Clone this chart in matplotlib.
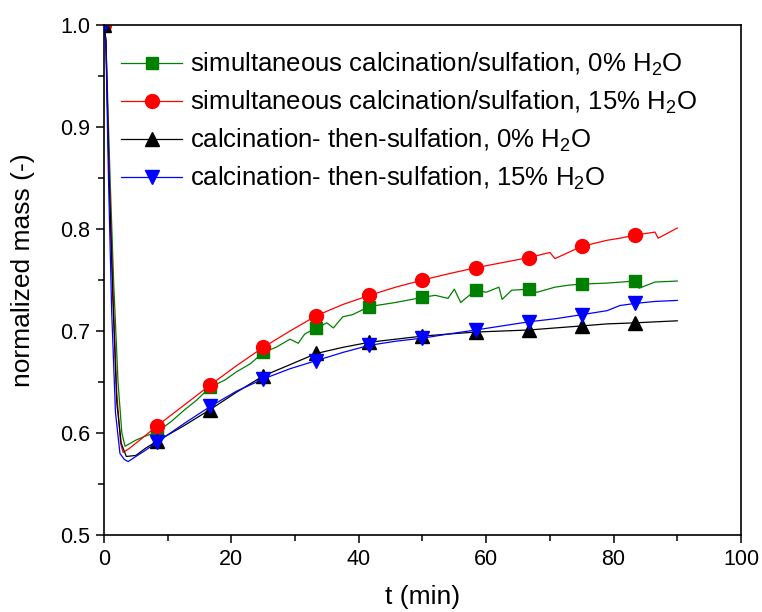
import matplotlib
matplotlib.use("Agg")
import matplotlib.pyplot as plt
from matplotlib.ticker import MultipleLocator

plt.rcParams['font.family'] = ['Liberation Sans', 'DejaVu Sans']
plt.rcParams['mathtext.fontset'] = 'custom'
plt.rcParams['mathtext.rm'] = 'Liberation Sans'
plt.rcParams['mathtext.it'] = 'Liberation Sans'

# marker positions (min)
marker_t = [0, 8.33, 16.67, 25, 33.33, 41.67, 50, 58.33, 66.67, 75, 83.33]

# simultaneous calcination/sulfation, 0% H2O
t_g = [0, 0.3, 0.9, 1.5, 2.2, 2.8, 3.3, 5, 6.5, 8.33, 10.5, 12.5, 14.5, 16.67, 19, 20.8, 23,
       25, 27, 29.2, 30.5, 31.5, 33.33, 35, 36, 37.5, 39, 41.67, 45.8, 50, 52, 54, 55, 56,
       58.33, 60, 62, 62.5, 64, 66.67, 68, 70.8, 73, 75, 79, 83.33, 84, 86.5, 90]
m_g = [1.0, 0.985, 0.86, 0.75, 0.65, 0.60, 0.587, 0.593, 0.597, 0.601, 0.611, 0.622, 0.632, 0.645, 0.652, 0.660, 0.668,
       0.679, 0.684, 0.692, 0.688, 0.697, 0.703, 0.708, 0.703, 0.714, 0.716, 0.724, 0.728, 0.733, 0.735, 0.732, 0.741, 0.728,
       0.740, 0.738, 0.743, 0.731, 0.740, 0.741, 0.738, 0.743, 0.745, 0.746, 0.747, 0.749, 0.742, 0.748, 0.749]

# simultaneous calcination/sulfation, 15% H2O
t_r = [0, 0.3, 0.8, 1.4, 2.0, 2.6, 3.0, 4, 6, 8.33, 12.5, 16.67, 20.8, 25, 29.2, 33.33, 37.5,
       41.67, 45.8, 50, 54, 58.33, 62.5, 66.67, 70, 70.8, 75, 79, 81, 83.33, 86.5, 87, 90]
m_r = [1.0, 0.985, 0.86, 0.74, 0.64, 0.59, 0.581, 0.585, 0.595, 0.607, 0.627, 0.647, 0.666, 0.684, 0.700, 0.715, 0.726,
       0.735, 0.743, 0.750, 0.756, 0.762, 0.767, 0.772, 0.777, 0.771, 0.783, 0.789, 0.791, 0.794, 0.797, 0.791, 0.801]

# calcination- then-sulfation, 0% H2O
t_k = [0, 0.3, 0.8, 1.4, 2.0, 2.7, 3.5, 5, 6.5, 8.33, 12.5, 16.67, 20.8, 25, 29.2, 33.33, 37.5,
       41.67, 45.8, 50, 54, 58.33, 62.5, 66.67, 70.8, 75, 79, 83.33, 86.5, 90]
m_k = [1.0, 0.985, 0.85, 0.73, 0.63, 0.59, 0.577, 0.578, 0.585, 0.592, 0.607, 0.623, 0.640, 0.656, 0.667, 0.678, 0.684,
       0.689, 0.692, 0.695, 0.697, 0.699, 0.700, 0.701, 0.703, 0.705, 0.707, 0.708, 0.709, 0.710]

# calcination- then-sulfation, 15% H2O
t_b = [0, 0.3, 0.7, 1.2, 1.8, 2.5, 3.2, 3.8, 5, 6.5, 8.33, 12.5, 16.67, 20.8, 25, 29.2, 33.33, 37.5,
       41.67, 45.8, 50, 54, 58.33, 62.5, 66.67, 70.8, 75, 79, 81, 83.33, 86.5, 90]
m_b = [1.0, 0.98, 0.85, 0.72, 0.62, 0.58, 0.574, 0.572, 0.577, 0.583, 0.591, 0.609, 0.626, 0.641, 0.653, 0.663, 0.671, 0.679,
       0.686, 0.690, 0.693, 0.697, 0.701, 0.705, 0.709, 0.712, 0.716, 0.720, 0.725, 0.727, 0.729, 0.730]

labels = ['simultaneous calcination/sulfation, 0% H$_2$O',
          'simultaneous calcination/sulfation, 15% H$_2$O',
          'calcination- then-sulfation, 0% H$_2$O',
          'calcination- then-sulfation, 15% H$_2$O']


def marks(t):
    # indices of the points that carry a marker
    return [i for i, v in enumerate(t) if v in marker_t]


fig = plt.figure(figsize=(7.62, 6.12), dpi=100)
ax = fig.add_axes([0.1365, 0.1258, 0.8359, 0.8333])

series = [(t_g, m_g, '#008000', 's', 9),
          (t_r, m_r, '#ff0000', 'o', 10),
          (t_k, m_k, '#000000', '^', 10),
          (t_b, m_b, '#0000ff', 'v', 10)]
for (t, m, c, mk, ms), lab in zip(series, labels):
    ax.plot(t, m, color=c, lw=0.9, marker=mk, ms=ms, markevery=marks(t), label=lab)

ax.set_xlim(0, 100)
ax.set_ylim(0.5, 1.0)
ax.xaxis.set_major_locator(MultipleLocator(20))
ax.xaxis.set_minor_locator(MultipleLocator(10))
ax.yaxis.set_major_locator(MultipleLocator(0.1))
ax.yaxis.set_minor_locator(MultipleLocator(0.05))
ax.tick_params(which='both', direction='out', top=False, right=False, labelsize=15.5)
ax.tick_params(which='major', length=6, width=1.1, pad=4)
ax.tick_params(which='minor', length=4, width=1.1)
for s in ax.spines.values():
    s.set_linewidth(1.2)

ax.set_xlabel('t (min)', fontsize=19, labelpad=11)
ax.set_ylabel('normalized mass (-)', fontsize=19)
ax.yaxis.set_label_coords(-0.108, 0.52)

ax.legend(loc='upper left', bbox_to_anchor=(0.002, 0.98), frameon=False, fontsize=18.5,
          handlelength=2.4, handletextpad=0.3, labelspacing=0.42, borderaxespad=0.2)

fig.savefig('out.png', dpi=100)
